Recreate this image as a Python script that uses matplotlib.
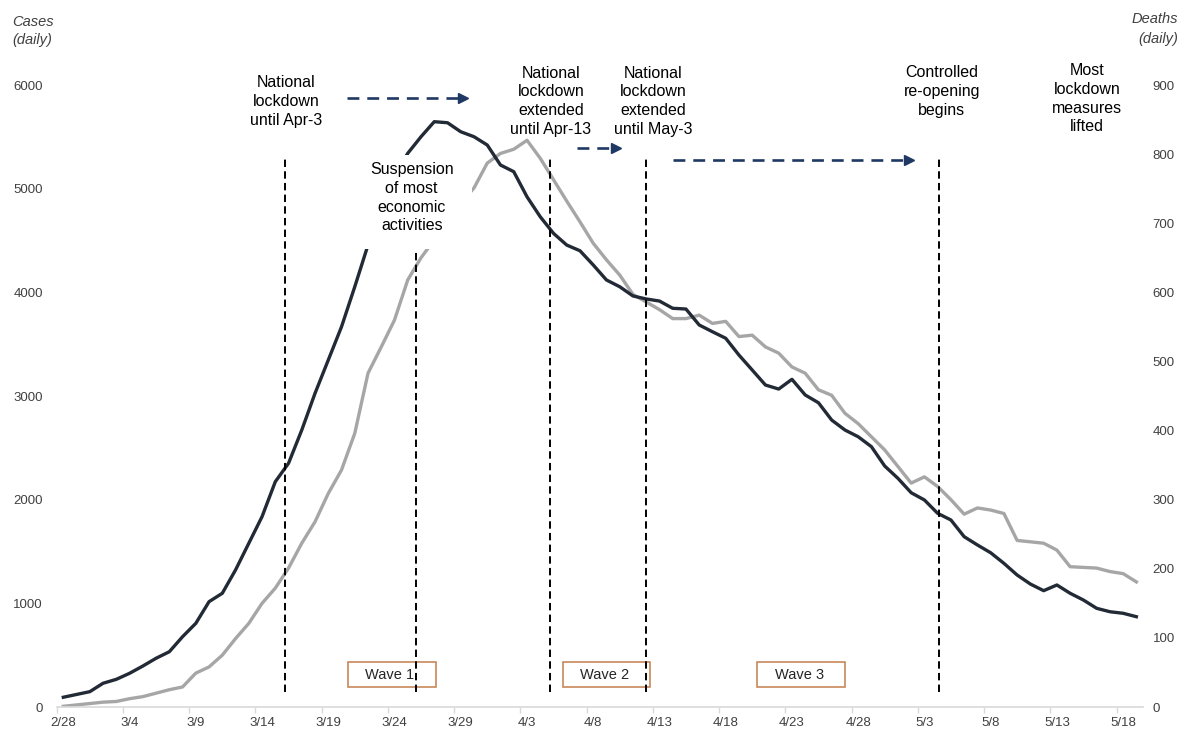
import matplotlib
matplotlib.use("Agg")
import matplotlib.pyplot as plt
from matplotlib.patches import Rectangle

plt.rcParams['font.family'] = ['Liberation Sans', 'DejaVu Sans']

# daily series, 2/28 .. 5/19 (one value per day)
cases = [94, 121, 148, 229, 267, 325, 395, 470, 533, 678,
         807, 1016, 1097, 1322, 1579, 1836, 2173, 2351, 2672, 3026,
         3347, 3668, 4054, 4457, 4850, 5130, 5341, 5501, 5646, 5636,
         5549, 5501, 5421, 5228, 5164, 4922, 4729, 4569, 4456, 4401,
         4264, 4119, 4054, 3965, 3936, 3916, 3846, 3839, 3685, 3620,
         3557, 3395, 3251, 3106, 3067, 3161, 3010, 2935, 2768, 2672,
         2607, 2511, 2325, 2206, 2067, 1997, 1868, 1804, 1643, 1563,
         1488, 1386, 1273, 1186, 1122, 1177, 1097, 1032, 952, 919,
         904, 871]
deaths = [1, 3, 5, 7, 8, 12, 15, 20, 25, 29,
          49, 58, 75, 99, 121, 150, 172, 201, 237, 268,
          309, 343, 396, 483, 521, 560, 618, 650, 676, 702,
          729, 751, 787, 801, 807, 820, 794, 763, 732, 702,
          671, 647, 625, 597, 586, 575, 562, 562, 567, 555,
          558, 536, 538, 521, 512, 492, 483, 459, 451, 425,
          410, 391, 372, 348, 324, 333, 319, 300, 279, 288,
          285, 280, 241, 239, 237, 227, 203, 202, 201, 196,
          193, 181]
days = list(range(len(cases)))

tick_days = list(range(0, 81, 5))
tick_labels = ["2/28", "3/4", "3/9", "3/14", "3/19", "3/24", "3/29", "4/3", "4/8",
               "4/13", "4/18", "4/23", "4/28", "5/3", "5/8", "5/13", "5/18"]

# policy events (day index) and their notes
event_days = [16.75, 26.6, 36.75, 44.0, 66.1]
notes = [
    (16.8, 5839, "National\nlockdown\nuntil Apr-3"),
    (36.8, 5843, "National\nlockdown\nextended\nuntil Apr-13"),
    (44.5, 5843, "National\nlockdown\nextended\nuntil May-3"),
    (66.3, 5935, "Controlled\nre-opening\nbegins"),
    (77.3, 5868, "Most\nlockdown\nmeasures\nlifted"),
]
# dashed arrows: (start day, end day, height in cases)
arrows = [(21.4, 30.45, 5872), (38.75, 42.0, 5395), (46.0, 64.15, 5281)]
waves = [("Wave 1", 21.5, 28.1), ("Wave 2", 37.7, 44.3), ("Wave 3", 52.4, 59.0)]

dark = '#222a36'
grey = '#a6a6a6'
navy = '#1f3864'
txt = '#404040'

fig = plt.figure(figsize=(11.91, 7.31), dpi=100)
ax = fig.add_axes([56.7 / 1191, 1 - 707 / 731, (1143 - 56.7) / 1191, (707 - 85) / 731])
ax2 = ax.twinx()
ax.set_zorder(ax2.get_zorder() + 1)
ax.patch.set_visible(False)

ax2.plot(days, deaths, color=grey, lw=2.4, solid_joinstyle='round')
ax.plot(days, cases, color=dark, lw=2.4, solid_joinstyle='round', zorder=2)

ax.set_xlim(-0.5, 81.5)
ax.set_ylim(0, 6000)
ax2.set_ylim(0, 900)

for a in (ax, ax2):
    for s in a.spines.values():
        s.set_visible(False)
ax.spines['bottom'].set_visible(True)
ax.spines['bottom'].set_color('#d9d9d9')
ax.spines['bottom'].set_linewidth(1.2)

ax.set_yticks(range(0, 6001, 1000))
ax2.set_yticks(range(0, 901, 100))
ax.tick_params(axis='y', length=0, pad=10, labelsize=9.5, labelcolor=txt)
ax2.tick_params(axis='y', length=0, pad=7, labelsize=9.5, labelcolor=txt)

ax.set_xticks(tick_days)
ax.set_xticklabels(tick_labels)
ax.set_xticks([d - 0.5 for d in range(0, 81, 5)], minor=True)
ax.tick_params(axis='x', which='major', length=0, pad=7, labelsize=9.5, labelcolor=txt)
ax.tick_params(axis='x', which='minor', length=4, color='#d9d9d9', width=1)

# event markers
ax.vlines(event_days, 145, 5296, colors='black', linestyles=(0, (3.8, 2.2)), lw=1.4, zorder=3)

# white panel behind the mid-March note
ax.add_patch(Rectangle((22.5, 4418), 8.35, 907, facecolor='white', edgecolor='none', zorder=4))
ax.text(26.3, 4913, "Suspension\nof most\neconomic\nactivities", ha='center', va='center',
        fontsize=11.5, color='black', linespacing=1.32, zorder=5)

for x, y, s in notes:
    ax.text(x, y, s, ha='center', va='center', fontsize=11.5, color='black',
            linespacing=1.32, zorder=5)

for x0, x1, y in arrows:
    ax.plot([x0, x1 - 0.5], [y, y], color=navy, lw=1.9, linestyle=(0, (4.5, 3)), zorder=5)
    ax.plot([x1 - 0.3], [y], marker='>', ms=7, color=navy, zorder=5)

for label, x0, x1 in waves:
    ax.add_patch(Rectangle((x0, 193), x1 - x0, 241, facecolor='none',
                           edgecolor='#c8895a', lw=1.2, zorder=2.5))
    ax.text((x0 + x1) / 2 - 0.15, 313, label, ha='center', va='center', fontsize=10.5,
            color='#262626', zorder=5)

fig.text(12 / 1191, 1 - 31 / 731, "Cases\n(daily)", ha='left', va='center', fontsize=10.5,
         style='italic', color=txt, linespacing=1.3)
fig.text(1178 / 1191, 1 - 29 / 731, "Deaths\n(daily)", ha='right', va='center', fontsize=10.5,
         style='italic', color=txt, linespacing=1.6)

fig.savefig("out.png", dpi=100)
